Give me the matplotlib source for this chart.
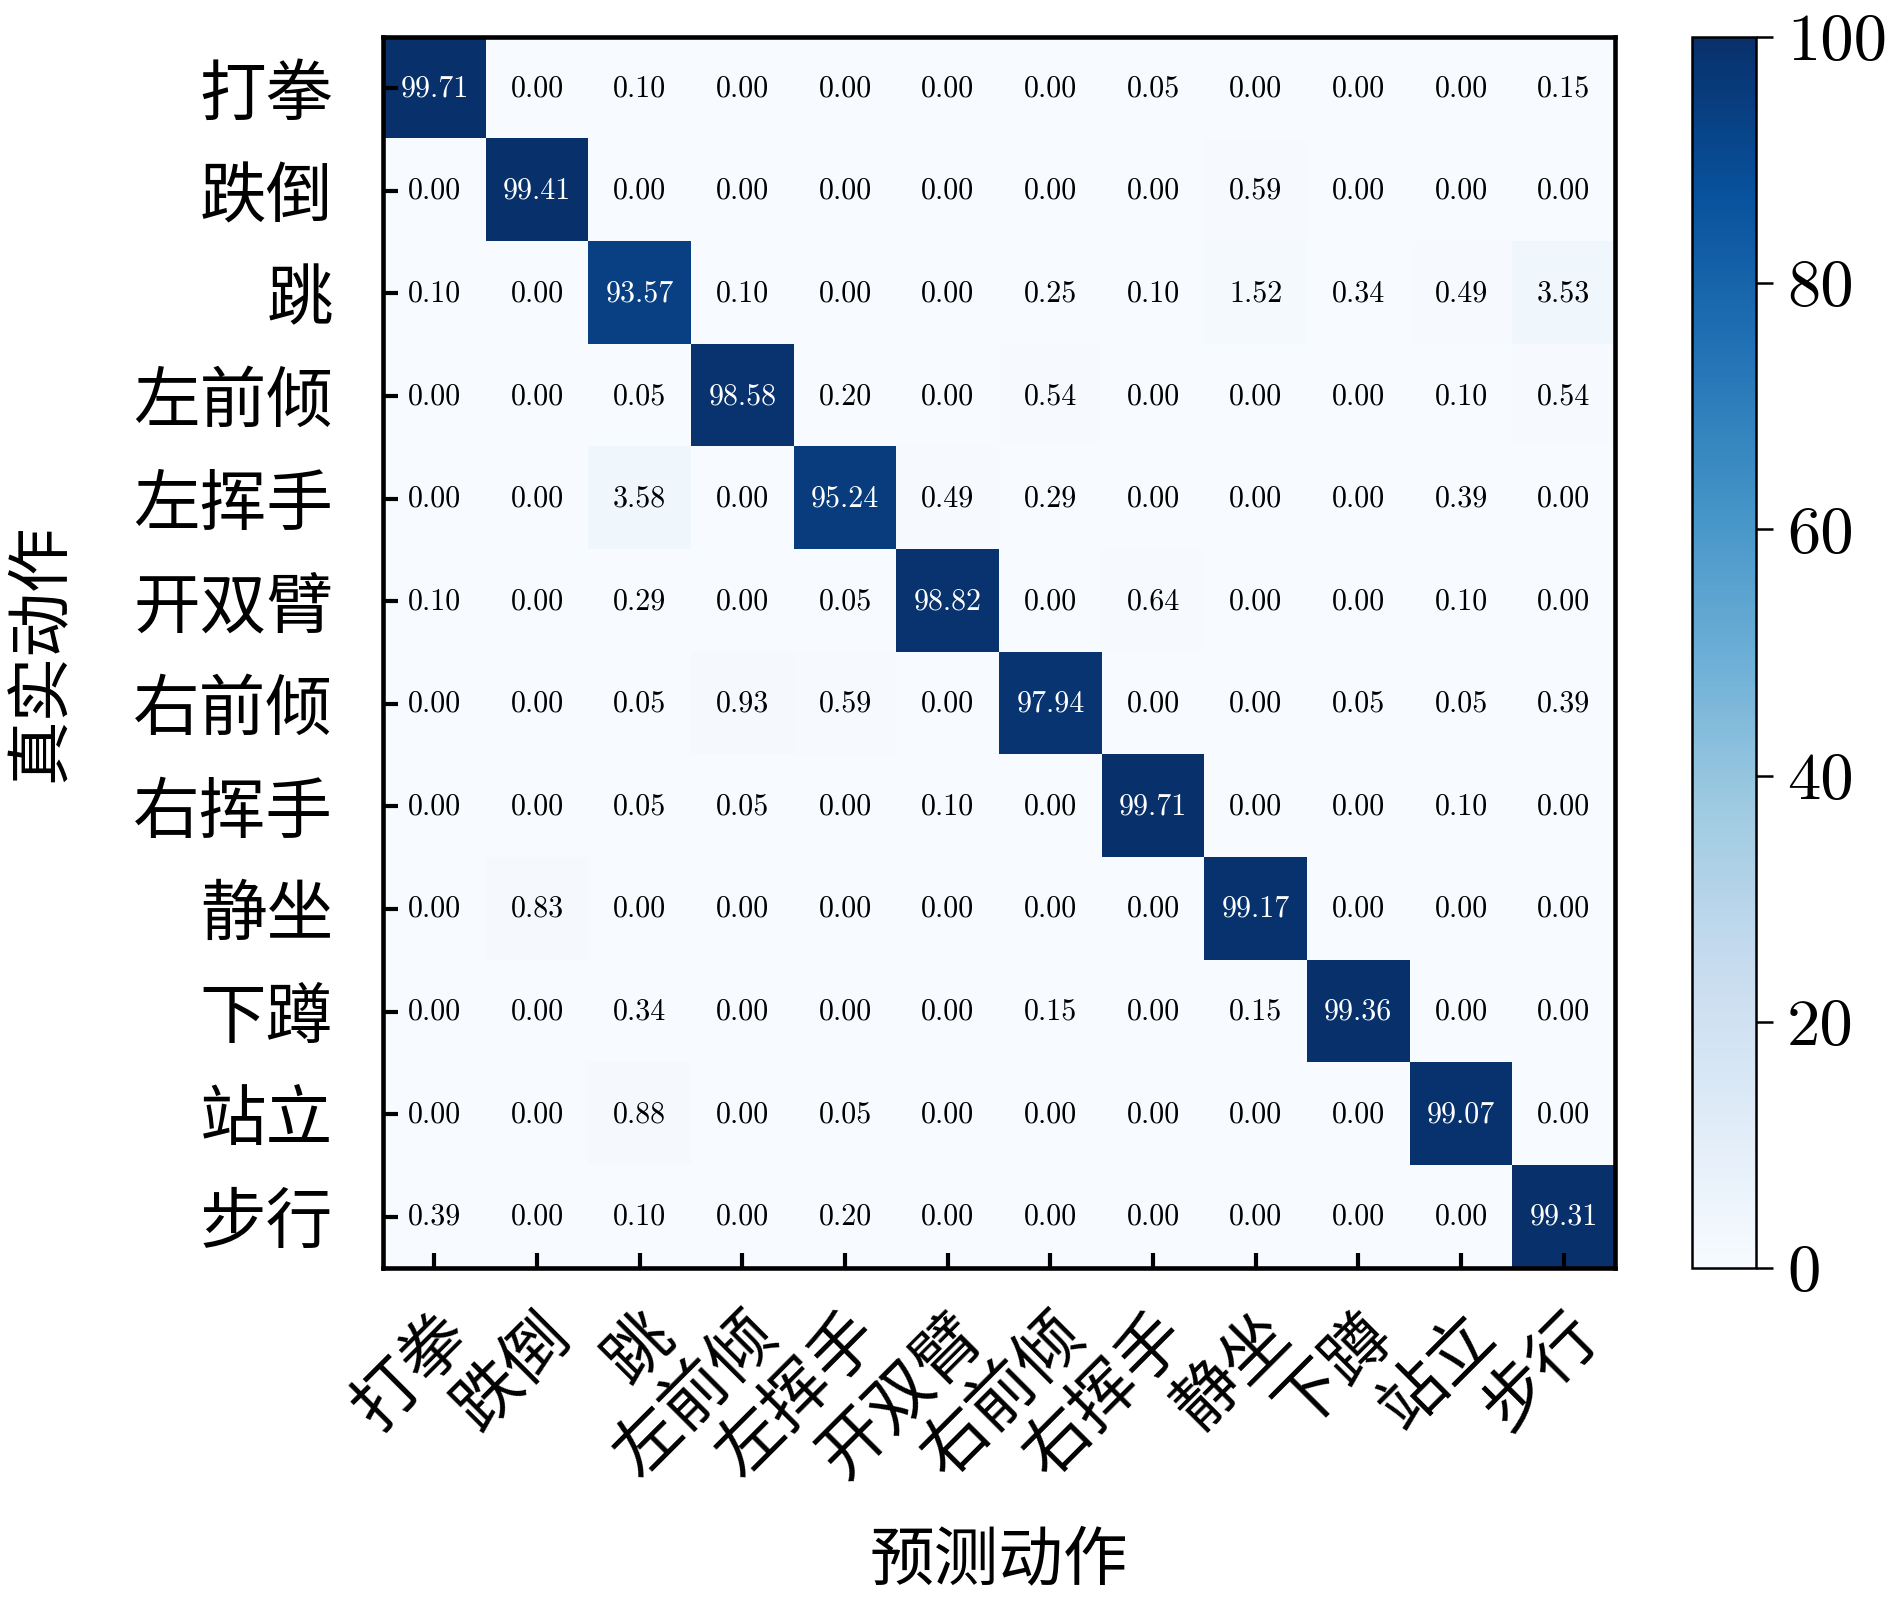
import numpy as np
import matplotlib
matplotlib.use('Agg')
import matplotlib.pyplot as plt

#类别
labels = ['打拳', '跌倒', '跳', '左前倾', '左挥手', '开双臂', '右前倾', '右挥手', '静坐', '下蹲', '站立', '步行']

#混淆矩阵 (百分比), 行 = 真实, 列 = 预测
row_dq = [99.71, 0.00, 0.10, 0.00, 0.00, 0.00, 0.00, 0.05, 0.00, 0.00, 0.00, 0.15]
row_dd = [0.00, 99.41, 0.00, 0.00, 0.00, 0.00, 0.00, 0.00, 0.59, 0.00, 0.00, 0.00]
row_t = [0.10, 0.00, 93.57, 0.10, 0.00, 0.00, 0.25, 0.10, 1.52, 0.34, 0.49, 3.53]
row_zqq = [0.00, 0.00, 0.05, 98.58, 0.20, 0.00, 0.54, 0.00, 0.00, 0.00, 0.10, 0.54]
row_zhs = [0.00, 0.00, 3.58, 0.00, 95.24, 0.49, 0.29, 0.00, 0.00, 0.00, 0.39, 0.00]
row_ksb = [0.10, 0.00, 0.29, 0.00, 0.05, 98.82, 0.00, 0.64, 0.00, 0.00, 0.10, 0.00]
row_yqq = [0.00, 0.00, 0.05, 0.93, 0.59, 0.00, 97.94, 0.00, 0.00, 0.05, 0.05, 0.39]
row_yhs = [0.00, 0.00, 0.05, 0.05, 0.00, 0.10, 0.00, 99.71, 0.00, 0.00, 0.10, 0.00]
row_jz = [0.00, 0.83, 0.00, 0.00, 0.00, 0.00, 0.00, 0.00, 99.17, 0.00, 0.00, 0.00]
row_xd = [0.00, 0.00, 0.34, 0.00, 0.00, 0.00, 0.15, 0.00, 0.15, 99.36, 0.00, 0.00]
row_zl = [0.00, 0.00, 0.88, 0.00, 0.05, 0.00, 0.00, 0.00, 0.00, 0.00, 99.07, 0.00]
row_bx = [0.39, 0.00, 0.10, 0.00, 0.20, 0.00, 0.00, 0.00, 0.00, 0.00, 0.00, 99.31]

cm = np.array([row_dq, row_dd, row_t, row_zqq, row_zhs, row_ksb,
               row_yqq, row_yhs, row_jz, row_xd, row_zl, row_bx])

num_font = ['cmr10', 'Noto Sans CJK SC']
cjk_font = ['Noto Sans CJK SC', 'DejaVu Sans']

fig = plt.figure(figsize=(6.3, 5.36), dpi=300)
ax = fig.add_axes([0.2027, 0.2114, 0.6518, 0.7656])
cax = fig.add_axes([0.895, 0.2114, 0.034, 0.7656])

im = ax.imshow(cm, cmap='Blues', vmin=0, vmax=100, aspect='auto')

#数字
n = len(labels)
for i in range(n):
    for j in range(n):
        v = cm[i, j]
        ax.text(j, i, f'{v:.2f}', ha='center', va='center', fontsize=7.2,
                family=num_font, color='white' if v > 50 else 'black')

ax.set_xticks(range(n))
ax.set_yticks(range(n))
ax.set_xticklabels(labels, rotation=45, ha='right', rotation_mode='anchor',
                   family=cjk_font, fontsize=16)
ax.set_yticklabels(labels, family=cjk_font, fontsize=16)
ax.tick_params(direction='in', length=3.5, width=1, pad=12)
ax.tick_params(axis='x', pad=8)
for s in ax.spines.values():
    s.set_linewidth(1.1)

ax.set_xlabel('预测动作', family=cjk_font, fontsize=15.5, labelpad=9)
ax.set_ylabel('真实动作', family=cjk_font, fontsize=15.5, labelpad=14)

cb = fig.colorbar(im, cax=cax)
cb.set_ticks([0, 20, 40, 60, 80, 100])
cb.ax.tick_params(labelsize=16, length=4, width=0.6)
for t in cb.ax.get_yticklabels():
    t.set_family(num_font)
cb.outline.set_linewidth(0.6)

fig.savefig('out.png', dpi=300)
